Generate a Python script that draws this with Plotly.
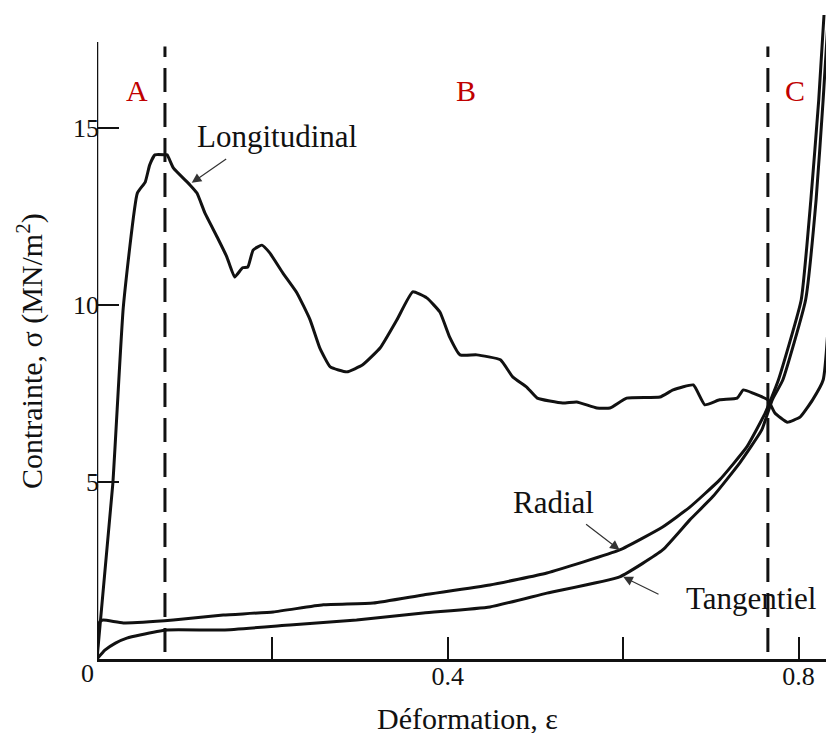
import plotly.graph_objects as go

# ---- data ----
long_x = [0, 0.018, 0.030, 0.046, 0.055, 0.060, 0.066, 0.078, 0.080, 0.087, 0.106, 0.114, 0.123,
          0.137, 0.148, 0.157, 0.166, 0.172, 0.178, 0.188, 0.197, 0.212, 0.228, 0.243, 0.254,
          0.266, 0.285, 0.303, 0.323, 0.342, 0.360, 0.376, 0.391, 0.402, 0.414, 0.433, 0.460,
          0.474, 0.490, 0.502, 0.531, 0.547, 0.570, 0.585, 0.604, 0.642, 0.657, 0.680, 0.693,
          0.710, 0.730, 0.737, 0.748, 0.765, 0.773, 0.787, 0.802, 0.816, 0.828, 0.835, 0.839,
          0.845]
long_y = [0, 4.94, 9.94, 13.16, 13.47, 13.95, 14.24, 14.24, 14.24, 13.87, 13.39, 13.16, 12.60,
          11.92, 11.36, 10.79, 11.05, 11.07, 11.55, 11.69, 11.47, 10.90, 10.34, 9.58, 8.79,
          8.25, 8.11, 8.31, 8.79, 9.58, 10.37, 10.20, 9.80, 9.10, 8.59, 8.59, 8.45,
          7.97, 7.68, 7.37, 7.23, 7.26, 7.09, 7.09, 7.37, 7.40, 7.60, 7.74, 7.18,
          7.32, 7.37, 7.60, 7.51, 7.32, 6.95, 6.69, 6.84, 7.32, 7.88, 9.90, 12.77,
          16.00]

rad_x = [0, 0.003, 0.007, 0.030, 0.087, 0.144, 0.201, 0.258, 0.315, 0.372, 0.448, 0.513,
         0.596, 0.645, 0.676, 0.710, 0.741, 0.762, 0.777, 0.803, 0.814, 0.823, 0.829]
rad_y = [0, 1.05, 1.10, 1.02, 1.10, 1.24, 1.33, 1.53, 1.58, 1.81, 2.09, 2.43,
         3.08, 3.73, 4.29, 5.06, 5.99, 6.95, 7.88, 10.14, 12.97, 15.79, 18.19]

tan_x = [0, 0.009, 0.021, 0.034, 0.049, 0.080, 0.144, 0.220, 0.296, 0.372, 0.448, 0.513,
         0.596, 0.645, 0.676, 0.702, 0.733, 0.758, 0.770, 0.782, 0.808, 0.820, 0.828, 0.834]
tan_y = [0, 0.25, 0.45, 0.59, 0.68, 0.82, 0.82, 0.96, 1.10, 1.30, 1.47, 1.86,
         2.32, 3.08, 3.93, 4.58, 5.54, 6.47, 7.32, 7.88, 10.14, 12.97, 15.79, 18.19]

zone_bounds = [0.0775, 0.765]
zone_labels = ["A", "B", "C"]
zone_label_x = [0.046, 0.421, 0.796]

x_tickvals = [0.2, 0.4, 0.6, 0.8]
x_ticktext = ["", "0.4", "", "0.8"]
y_tickvals = [5, 10, 15]
y_ticktext = ["5", "10", "15"]

FONT = "Liberation Serif, Times New Roman, serif"
INK = "#111111"

fig = go.Figure()
for xs, ys in [(long_x, long_y), (rad_x, rad_y), (tan_x, tan_y)]:
    fig.add_trace(go.Scatter(x=xs, y=ys, mode="lines",
                             line=dict(color=INK, width=3, shape="spline", smoothing=0.4),
                             showlegend=False, hoverinfo="skip"))

shapes = []
# y axis line (shorter than plot area, curves go beyond)
shapes.append(dict(type="line", xref="x", yref="y", x0=0, x1=0, y0=0, y1=17.43,
                   line=dict(color=INK, width=2.5)))
for xb in zone_bounds:
    shapes.append(dict(type="line", xref="x", yref="y", x0=xb, x1=xb, y0=0.2, y1=17.3,
                       line=dict(color=INK, width=3, dash="24px,11px")))

annotations = []
for lab, lx in zip(zone_labels, zone_label_x):
    annotations.append(dict(x=lx, y=16.07, xref="x", yref="y", text=lab, showarrow=False,
                            font=dict(family=FONT, size=30, color="#c00000")))

annotations += [
    dict(x=0.205, y=14.75, xref="x", yref="y", text="Longitudinal", showarrow=False,
         font=dict(family=FONT, size=31, color=INK)),
    dict(x=0.520, y=4.41, xref="x", yref="y", text="Radial", showarrow=False,
         font=dict(family=FONT, size=31, color=INK)),
    dict(x=0.746, y=1.72, xref="x", yref="y", text="Tangentiel", showarrow=False,
         font=dict(family=FONT, size=31, color=INK)),
    # arrows
    dict(x=0.108, y=13.45, ax=0.149, ay=14.15, xref="x", yref="y", axref="x", ayref="y",
         text="", showarrow=True, arrowhead=2, arrowsize=1.6, arrowwidth=1.2, arrowcolor="#333"),
    dict(x=0.596, y=3.08, ax=0.556, ay=3.84, xref="x", yref="y", axref="x", ayref="y",
         text="", showarrow=True, arrowhead=2, arrowsize=1.6, arrowwidth=1.2, arrowcolor="#333"),
    dict(x=0.600, y=2.32, ax=0.642, ay=1.81, xref="x", yref="y", axref="x", ayref="y",
         text="", showarrow=True, arrowhead=2, arrowsize=1.6, arrowwidth=1.2, arrowcolor="#333"),
    # origin label
    dict(x=0, y=0, xref="x", yref="y", text="0", showarrow=False, xshift=-10, yshift=-14,
         font=dict(family=FONT, size=26, color=INK)),
    # axis titles
    dict(x=0.503, y=-0.0918, xref="paper", yref="paper", text="Déformation, ε", showarrow=False,
         xanchor="center", yanchor="middle",
         font=dict(family=FONT, size=30, color=INK)),
    dict(x=-0.091, y=0.478, xref="paper", yref="paper", text="Contrainte, σ (MN/m<sup>2</sup>)",
         xanchor="center", yanchor="middle",
         textangle=-90, showarrow=False, font=dict(family=FONT, size=30, color=INK)),
]

# page has an 8px body margin: figure is sized/offset to land on the 834x733 window
fig.update_layout(
    width=826, height=725,
    margin=dict(l=89, r=0, t=7, b=74),
    paper_bgcolor="white", plot_bgcolor="white",
    shapes=shapes, annotations=annotations,
    font=dict(family=FONT, color=INK),
    xaxis=dict(range=[0, 0.8404], showgrid=False, zeroline=False, showline=True,
               linecolor=INK, linewidth=2.5, ticks="inside", ticklen=22, tickwidth=2,
               tickcolor=INK, tickvals=x_tickvals, ticktext=x_ticktext,
               ticklabelstandoff=-8,
               tickfont=dict(family=FONT, size=26, color=INK)),
    yaxis=dict(range=[0, 18.19], showgrid=False, zeroline=False, showline=False,
               ticks="inside", ticklen=22, tickwidth=2, tickcolor=INK,
               tickvals=y_tickvals, ticktext=y_ticktext, ticklabelstandoff=-3,
               tickfont=dict(family=FONT, size=26, color=INK)),
)

fig.write_html("out.html")
